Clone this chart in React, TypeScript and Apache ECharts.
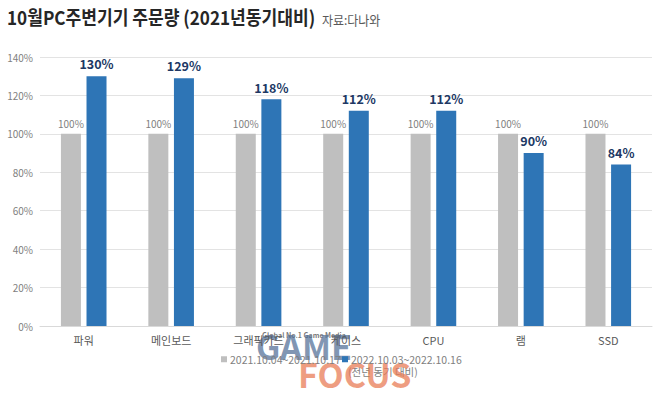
import React, { useEffect, useRef } from "react";
import * as echarts from "echarts";

const categories = ["파워", "메인보드", "그래픽카드", "케이스", "CPU", "램", "SSD"];
const series2021 = [100, 100, 100, 100, 100, 100, 100];
const series2022 = [130, 129, 118, 112, 112, 90, 84];
const seriesNames = ["2021.10.04~2021.10.17", "2022.10.03~2022.10.16"];
const yTicks = { min: 0, max: 140, interval: 20 };

const FONT = "'Noto Sans CJK KR', 'Noto Sans', sans-serif";

export default function App() {
  const ref = useRef<HTMLDivElement>(null);
  useEffect(() => {
    if (!ref.current) return;
    const chart = echarts.init(ref.current, undefined, { renderer: "svg" });
    chart.setOption({
      animation: false,
      backgroundColor: "#ffffff",
      textStyle: { fontFamily: FONT },
      grid: { left: 40, right: 8, top: 57, bottom: 69 },
      legend: [
        {
          data: [seriesNames[0]],
          left: 216,
          top: 349,
          icon: "rect",
          itemWidth: 6,
          itemHeight: 6,
          textStyle: { fontSize: 10.5, color: "#7f7f7f", fontFamily: FONT, padding: [0, 0, 0, -2] },
        },
        {
          data: [seriesNames[1]],
          left: 337,
          top: 349,
          icon: "rect",
          itemWidth: 6,
          itemHeight: 6,
          textStyle: { fontSize: 10.5, color: "#7f7f7f", fontFamily: FONT, padding: [0, 0, 0, -2] },
        },
      ],
      xAxis: {
        type: "category",
        data: categories,
        axisLine: { lineStyle: { color: "#d9d9d9" } },
        axisTick: { show: false },
        axisLabel: { fontSize: 11, color: "#595959", margin: 8, fontFamily: FONT },
      },
      yAxis: {
        type: "value",
        min: yTicks.min,
        max: yTicks.max,
        interval: yTicks.interval,
        axisLine: { show: false },
        axisTick: { show: false },
        splitLine: { lineStyle: { color: "#e3e3e3" } },
        axisLabel: { formatter: "{value}%", fontSize: 10, color: "#7f7f7f", margin: 7, fontFamily: FONT },
      },
      series: [
        {
          name: seriesNames[0],
          type: "bar",
          data: series2021,
          barWidth: 20,
          barGap: "28%",
          itemStyle: { color: "#bfbfbf" },
          label: {
            show: true,
            position: "top",
            distance: 5,
            formatter: "{c}%",
            fontSize: 10,
            color: "#7f7f7f",
            fontFamily: FONT,
          },
        },
        {
          name: seriesNames[1],
          type: "bar",
          data: series2022,
          barWidth: 20,
          itemStyle: { color: "#2e75b6" },
          label: {
            show: true,
            position: "top",
            distance: 6,
            formatter: "{c}%",
            fontSize: 12.5,
            fontWeight: "bold",
            color: "#203864",
            fontFamily: FONT,
          },
        },
      ],
      graphic: [
        {
          type: "text",
          x: 7,
          y: 7,
          scaleX: 0.9,
          style: {
            text: "10월PC주변기기 주문량 (2021년동기대비)",
            fontSize: 19,
            fontWeight: "bold",
            fill: "#262626",
            fontFamily: FONT,
          },
        },
        {
          type: "text",
          x: 322,
          y: 13,
          scaleX: 0.92,
          style: { text: "자료:다나와", fontSize: 13, fill: "#595959", fontFamily: FONT },
        },
        {
          type: "text",
          left: 348,
          top: 366,
          style: { text: "(전년 동기 대비)", fontSize: 10.5, fill: "#7f7f7f", fontFamily: FONT },
        },
        {
          type: "text",
          left: 262,
          top: 331,
          style: { text: "Global No.1 Game Media", fontSize: 7, fontWeight: "bold", fill: "rgba(60,60,60,0.7)", fontFamily: FONT },
        },
        {
          type: "text",
          x: 256,
          y: 328,
          style: { text: "GAME", fontSize: 34, fontWeight: "bold", fill: "rgba(80,110,150,0.72)", fontFamily: FONT },
        },
        {
          type: "text",
          x: 298,
          y: 356,
          style: { text: "FOCUS", fontSize: 34, fontWeight: "bold", fill: "rgba(232,120,80,0.72)", fontFamily: FONT },
        },
      ],
    });
    return () => chart.dispose();
  }, []);
  return <div ref={ref} style={{ position: "fixed", left: 0, top: 0, width: 660, height: 395 }} />;
}
